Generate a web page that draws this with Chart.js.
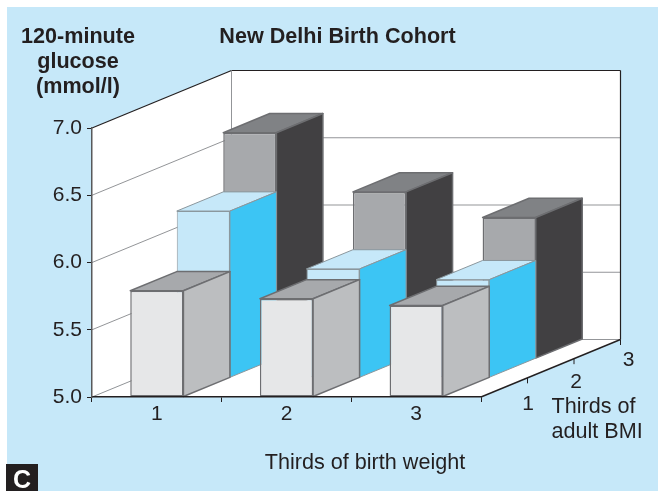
<!DOCTYPE html>
<html>
<head>
<meta charset="utf-8">
<style>html,body{margin:0;padding:0;background:#fff}canvas{display:block}</style>
<script src="https://cdn.jsdelivr.net/npm/chart.js@4/dist/chart.umd.min.js"></script>
</head>
<body>
<canvas id="c" width="658" height="491"></canvas>
<script>
// ---- data ----
const birthWeightThirds = ['1', '2', '3'];
const adultBmiThirds = ['1', '2', '3'];
const yMin = 5.0;
const yMax = 7.0;
const yStep = 0.5;
const bmiThird1 = [5.79, 5.73, 5.68];
const bmiThird2 = [6.24, 5.81, 5.73];
const bmiThird3 = [6.68, 6.24, 6.05];
const chartTitle = 'New Delhi Birth Cohort';
const yTitleLines = ['120-minute', 'glucose', '(mmol/l)'];
const xTitle = 'Thirds of birth weight';
const zTitleLines = ['Thirds of', 'adult BMI'];
const panelLetter = 'C';

// ---- style ----
const INK = '#231f20';
const PANEL = '#c6e8f9';
const FONT = '"Liberation Sans", Arial, sans-serif';
const DEPTH = {x: 139.5, y: -57.5};           // full floor depth on screen
const Z_LABEL = [{x: 0.5, y: 25}, {x: 2, y: 22}, {x: 8, y: 19}];
const faces = [
  {front: '#e6e7e8', top: '#a7a9ac', side: '#bcbec0', line: '#6d6e71', w: 1.5},
  {front: '#c6e8f9', top: '#c6e8f9', side: '#3cc5f4', line: '#8b979d', w: 1},
  {front: '#a7a9ac', top: '#808285', side: '#414042', line: '#6d6e71', w: 1.5}
];

function poly(ctx, pts, fill, stroke, w) {
  ctx.beginPath();
  pts.forEach((p, i) => i ? ctx.lineTo(p[0], p[1]) : ctx.moveTo(p[0], p[1]));
  ctx.closePath();
  if (fill) { ctx.fillStyle = fill; ctx.fill(); }
  if (stroke) { ctx.strokeStyle = stroke; ctx.lineWidth = w; ctx.lineJoin = 'round'; ctx.stroke(); }
}
function seg(ctx, x1, y1, x2, y2, color, w) {
  ctx.beginPath(); ctx.moveTo(x1, y1); ctx.lineTo(x2, y2);
  ctx.strokeStyle = color; ctx.lineWidth = w; ctx.stroke();
}
function text(ctx, s, x, y, font, align, color) {
  ctx.font = font; ctx.textAlign = align; ctx.textBaseline = 'alphabetic';
  ctx.fillStyle = color || INK; ctx.fillText(s, x, y);
}

const box3d = {
  id: 'box3d',
  beforeDraw(chart) {
    const {ctx, chartArea: a, scales: {y}} = chart;
    const L = a.left, R = a.right, T = y.getPixelForValue(yMax), B = y.getPixelForValue(yMin);
    const dx = DEPTH.x, dy = DEPTH.y;
    ctx.save();
    ctx.fillStyle = '#fff'; ctx.fillRect(0, 0, chart.width, chart.height);
    ctx.fillStyle = PANEL; ctx.fillRect(7, 7, chart.width - 7, chart.height - 7);
    // walls and floor
    poly(ctx, [[L, T], [L + dx, T + dy], [L + dx, B + dy], [L, B]], '#fff');
    poly(ctx, [[L + dx, T + dy], [R + dx, T + dy], [R + dx, B + dy], [L + dx, B + dy]], '#fff');
    poly(ctx, [[L, B], [R, B], [R + dx, B + dy], [L + dx, B + dy]], '#fff');
    // gridlines follow the value scale round the walls
    y.ticks.forEach(t => {
      const p = y.getPixelForValue(t.value);
      seg(ctx, L, p, L + dx, p + dy, t.value === yMax ? INK : '#939598', t.value === yMax ? 1.2 : 1);
      seg(ctx, L + dx, p + dy, R + dx, p + dy, t.value === yMax ? INK : '#939598', 1.2);
    });
    seg(ctx, L + dx, T + dy, L + dx, B + dy, '#939598', 1);
    seg(ctx, R + dx, T + dy, R + dx, B + dy, INK, 1.2);
    seg(ctx, R, B, R + dx, B + dy, INK, 1.4);
    // depth axis ticks and labels
    adultBmiThirds.forEach((lab, i) => {
      const f = (i + 1) / adultBmiThirds.length;
      const px = R + dx * f, py = B + dy * f;
      seg(ctx, px, py, px, py + 5.5, INK, 1);
      text(ctx, lab, px + Z_LABEL[i].x, py + Z_LABEL[i].y + 7, '21px ' + FONT, 'center');
    });
    // titles
    text(ctx, chartTitle, 337.5, 43, 'bold 21.6px ' + FONT, 'center');
    yTitleLines.forEach((s, i) => text(ctx, s, 78, 43 + i * 25, 'bold 21.6px ' + FONT, 'center'));
    text(ctx, xTitle, 365, 469, '21.6px ' + FONT, 'center');
    zTitleLines.forEach((s, i) => text(ctx, s, 551.5, 413 + i * 25, '21.6px ' + FONT, 'left'));
    // panel letter
    ctx.fillStyle = INK; ctx.fillRect(6, 464, 32, 27);
    text(ctx, panelLetter, 22, 488, 'bold 25px ' + FONT, 'center', '#fff');
    ctx.restore();
  },
  beforeDatasetDraw(chart, args) {
    const {ctx} = chart;
    const n = adultBmiThirds.length, i = args.index;
    const f = faces[i];
    const sx = DEPTH.x / n, sy = DEPTH.y / n;
    ctx.save();
    ctx.translate(sx * i, sy * i);
    args.meta.data.forEach(bar => {
      const l = bar.x - bar.width / 2, r = bar.x + bar.width / 2;
      poly(ctx, [[l, bar.y], [r, bar.y], [r + sx, bar.y + sy], [l + sx, bar.y + sy]], f.top, f.line, f.w);
      poly(ctx, [[r, bar.y], [r + sx, bar.y + sy], [r + sx, bar.base + sy], [r, bar.base]], f.side, f.line, f.w);
    });
  },
  afterDatasetDraw(chart) { chart.ctx.restore(); }
};

new Chart(document.getElementById('c'), {
  type: 'bar',
  data: {
    labels: birthWeightThirds,
    datasets: [bmiThird1, bmiThird2, bmiThird3].map((values, i) => ({
      label: 'Adult BMI third ' + adultBmiThirds[i],
      data: values,
      base: yMin,
      backgroundColor: faces[i].front,
      borderColor: faces[i].line,
      borderWidth: faces[i].w,
      borderSkipped: false,
      grouped: false,
      barPercentage: 0.41,
      categoryPercentage: 1,
      clip: false
    }))
  },
  plugins: [box3d],
  options: {
    responsive: false,
    animation: false,
    events: [],
    layout: {padding: {left: 0, right: 177, top: 128, bottom: 0}},
    plugins: {legend: {display: false}, tooltip: {enabled: false}, title: {display: false}},
    scales: {
      x: {
        type: 'category',
        offset: true,
        afterFit(s) { s.height = 94; },
        grid: {offset: true, drawOnChartArea: false, drawTicks: true, tickLength: 5, color: INK, lineWidth: 1},
        border: {color: INK, width: 1.5, z: 1},
        ticks: {color: INK, font: {family: 'Liberation Sans', size: 21}, padding: 0, maxRotation: 0}
      },
      y: {
        min: yMin, max: yMax,
        afterFit(s) { s.width = 92; },
        grid: {drawOnChartArea: false, drawTicks: true, tickLength: 5, color: INK, lineWidth: 1},
        border: {color: '#58595b', width: 1.5, z: 1},
        ticks: {stepSize: yStep, color: INK, font: {family: 'Liberation Sans', size: 21}, padding: 5,
                callback: v => v.toFixed(1)}
      }
    }
  }
});
</script>
</body>
</html>
